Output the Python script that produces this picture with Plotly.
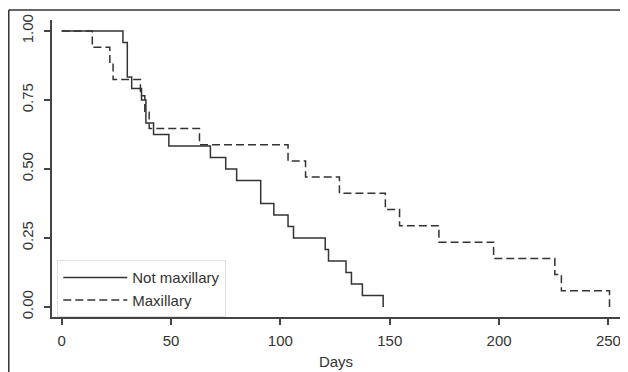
import plotly.graph_objects as go

# Kaplan-Meier step values
not_max_days = [0, 28, 30, 32, 36.5, 38.5, 42, 49, 68, 75, 80, 91, 97, 103.5, 106,
                120.5, 122, 130, 132.5, 137.5, 147]
not_max_surv = [1.0, 0.958, 0.833, 0.792, 0.75, 0.667, 0.625, 0.583, 0.542, 0.5,
                0.458, 0.375, 0.333, 0.292, 0.25, 0.208, 0.167, 0.125, 0.083, 0.042, 0.0]

max_days = [0, 14, 22, 23.5, 36, 38, 40, 63, 103.5, 111.5, 127, 148, 154.5,
            172.5, 197.5, 225.5, 228.5, 250.5]
max_surv = [1.0, 0.941, 0.882, 0.824, 0.765, 0.706, 0.647, 0.588, 0.529, 0.471,
            0.412, 0.353, 0.294, 0.235, 0.176, 0.118, 0.059, 0.0]

series_names = ["Not maxillary", "Maxillary"]
x_ticks = [0, 50, 100, 150, 200, 250]
y_ticks = [0.0, 0.25, 0.50, 0.75, 1.00]
x_title = "Days"

FONT = "Liberation Sans, Arial, Helvetica, sans-serif"
INK = "#333333"
TICKFONT = dict(family=FONT, size=15, color=INK)

fig = go.Figure()
fig.add_trace(go.Scatter(x=not_max_days, y=not_max_surv, mode="lines", line_shape="hv",
                         name=series_names[0], line=dict(color=INK, width=1.5)))
fig.add_trace(go.Scatter(x=max_days, y=max_surv, mode="lines", line_shape="hv",
                         name=series_names[1],
                         line=dict(color=INK, width=1.5, dash="8px,4px")))

# page has an 8px body margin, so the figure is 620x364 placed at (8, 8)
fig.update_layout(
    width=620, height=364,
    margin=dict(l=44, r=8, t=12, b=55),
    paper_bgcolor="white", plot_bgcolor="white",
    font=dict(family=FONT, size=15, color=INK),
    showlegend=True,
    legend=dict(x=0.0093, y=0.191, xanchor="left", yanchor="top",
                bgcolor="white", bordercolor="#e0e0e0", borderwidth=1,
                font=dict(family=FONT, size=15, color=INK), itemwidth=64,
                tracegroupgap=0),
    xaxis=dict(range=[-4.44, 255.3], tickvals=x_ticks, showline=True,
               linecolor="#444", linewidth=1.5, ticks="outside", ticklen=6,
               tickwidth=1.5, tickcolor="#444", showgrid=False, zeroline=False,
               automargin=False, tickfont=TICKFONT,
               title=dict(text=x_title, standoff=9, font=dict(family=FONT, size=15)),
               ticklabelstandoff=3),
    yaxis=dict(range=[-0.0362, 1.0399], tickvals=y_ticks, tickformat=".2f",
               tickangle=-90, showline=True, linecolor="#444", linewidth=1.5,
               ticks="outside", ticklen=6, tickwidth=1.5, tickcolor="#444",
               showgrid=False, zeroline=False, automargin=False,
               tickfont=TICKFONT, ticklabelstandoff=5),
    shapes=[
        dict(type="line", xref="paper", yref="paper", x0=-0.0761, x1=1.05,
             y0=1.0337, y1=1.0337, line=dict(color="#333", width=1.5)),
        dict(type="line", xref="paper", yref="paper", x0=-0.0761, x1=-0.0761,
             y0=1.0337, y1=-0.25, line=dict(color="#333", width=1.5)),
    ],
)

fig.write_html("out.html")
